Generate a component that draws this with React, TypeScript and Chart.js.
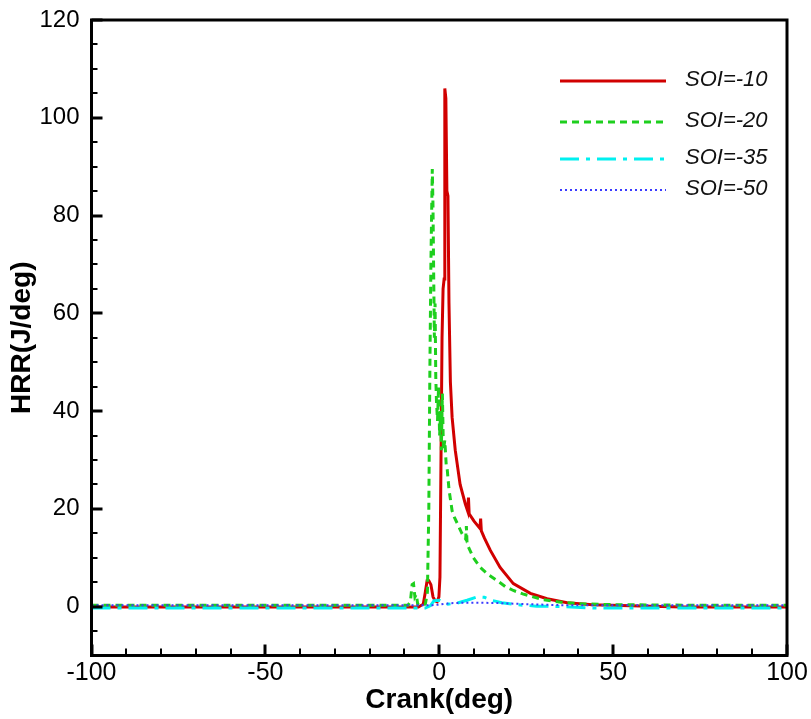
import { useEffect, useRef } from 'react';
import { Chart, registerables } from 'chart.js';

Chart.register(...registerables);

// ---------- data ----------
const seriesLabels = ['SOI=-10', 'SOI=-20', 'SOI=-35', 'SOI=-50'];

const crankSoi10 = [-100, -60, -20, -6, -4.6, -4, -3.5, -3, -2.4, -1.8, -1.2, -0.6, -0.1, 0.2, 0.5, 0.8, 1.1, 1.4, 1.6, 1.9, 2.2, 2.5, 2.8, 3.2, 3.7, 4.6, 6.0, 7.5, 8.2, 8.4, 8.6, 10, 11.7, 11.9, 12.1, 13, 14.7, 17.5, 21.3, 26.2, 31, 36.8, 44, 55, 70, 100];
const hrrSoi10 = [-0.1, -0.1, -0.1, -0.1, 0.5, 3, 5.3, 5.3, 4.5, 2, 1.2, 1.0, 2, 6, 30, 55, 65, 67, 106, 104, 85, 84, 62, 46, 38.7, 32, 25, 21, 19.5, 22.3, 19, 17.5, 16, 18, 15.5, 14, 11.5, 8, 4.7, 2.7, 1.6, 0.8, 0.4, 0.2, -0.1, -0.1];

const crankSoi20 = [-100, -50, -9, -8.3, -7.8, -7.4, -7.0, -6.6, -6.2, -5, -4, -3.4, -3.0, -2.7, -2.4, -2.2, -2.0, -1.8, -1.6, -1.4, -1.2, -1.0, -0.8, -0.5, -0.2, 0.1, 0.4, 0.6, 0.9, 1.2, 1.6, 2.0, 2.3, 2.8, 3.2, 3.7, 4.4, 5.2, 6.5, 7.6, 7.8, 8.0, 9.8, 11.8, 14, 16.7, 19, 21.3, 24, 26, 30, 35, 40, 50, 70, 100];
const hrrSoi20 = [0.3, 0.3, 0.3, 1, 4.5, 4.7, 2, 2.5, 0.5, 0.3, 0.5, 3, 20, 48, 70, 80, 89.5, 82, 68, 55, 62, 47, 42, 38, 45, 35, 40, 32, 43.6, 32, 34, 29, 28, 24, 22, 19.6, 18.2, 17, 15, 13.8, 16.5, 12.8, 10, 8, 6.6, 5.3, 4.1, 3.3, 2.6, 2.2, 1.4, 0.9, 0.6, 0.4, 0.3, 0.3];

const crankSoi35 = [-100, -4, -2.5, -1.5, 0, 1, 2.5, 5, 8, 11, 13, 15, 18, 22, 28, 35, 45, 100];
const hrrSoi35 = [-0.3, -0.3, 0.2, 1.2, 1.3, 1.0, 0.5, 0.7, 1.3, 2, 1.9, 1.3, 0.8, 0.4, 0.1, 0, -0.3, -0.3];

const crankSoi50 = [-100, -2, 0, 3, 8, 12, 18, 25, 35, 100];
const hrrSoi50 = [0.3, 0.3, 0.4, 0.7, 0.8, 0.8, 0.7, 0.5, 0.3, 0.3];

const xTickValues = [-100, -50, 0, 50, 100];
const yTickValues = [0, 20, 40, 60, 80, 100, 120];

const toPoints = (xs: number[], ys: number[]) => xs.map((x, i) => ({ x, y: ys[i] }));

const FONT = '"Liberation Sans", Arial, Helvetica, sans-serif';

const framePlugin = {
  id: 'frameTicks',
  afterDatasetsDraw(chart: any) {
    const { ctx, chartArea, scales } = chart;
    const { left, right, top, bottom } = chartArea;
    const xs = scales.x;
    const ys = scales.y;
    ctx.save();
    ctx.strokeStyle = '#000';
    for (let v = -100; v <= 100; v += 10) {
      const px = Math.round(xs.getPixelForValue(v));
      const major = v % 50 === 0;
      ctx.lineWidth = major ? 3 : 2;
      ctx.beginPath();
      ctx.moveTo(px, bottom);
      ctx.lineTo(px, bottom - (major ? 11 : 7));
      ctx.stroke();
    }
    for (let v = -10; v <= 120; v += 5) {
      const py = Math.round(ys.getPixelForValue(v));
      const major = v % 20 === 0;
      ctx.lineWidth = major ? 3 : 2;
      ctx.beginPath();
      ctx.moveTo(left, py);
      ctx.lineTo(left + (major ? 11 : 6), py);
      ctx.stroke();
    }
    ctx.lineWidth = 3;
    ctx.strokeRect(left, top, right - left, bottom - top);
    ctx.restore();
  },
};

const legendPlugin = {
  id: 'innerLegend',
  afterDraw(chart: any) {
    const { ctx } = chart;
    const rows = [81, 122, 159, 190];
    ctx.save();
    chart.data.datasets.forEach((ds: any, i: number) => {
      const y = rows[i];
      ctx.strokeStyle = ds.borderColor;
      ctx.lineWidth = ds.borderWidth;
      ctx.setLineDash(ds.borderDash || []);
      ctx.beginPath();
      ctx.moveTo(560, y);
      ctx.lineTo(666, y);
      ctx.stroke();
      ctx.setLineDash([]);
      ctx.fillStyle = '#111';
      ctx.font = `italic 22px ${FONT}`;
      ctx.textAlign = 'left';
      ctx.textBaseline = 'middle';
      ctx.fillText(ds.label, 685, y - 1);
    });
    ctx.restore();
  },
};

export default function App() {
  const canvasRef = useRef<HTMLCanvasElement | null>(null);

  useEffect(() => {
    if (!canvasRef.current) return;
    const chart = new Chart(canvasRef.current, {
      type: 'line',
      data: {
        datasets: [
          {
            label: seriesLabels[0],
            data: toPoints(crankSoi10, hrrSoi10),
            borderColor: '#d10000',
            borderWidth: 3,
            pointRadius: 0,
            tension: 0,
            order: 4,
          },
          {
            label: seriesLabels[1],
            data: toPoints(crankSoi20, hrrSoi20),
            borderColor: '#1ecf1e',
            borderWidth: 3,
            borderDash: [7, 5],
            pointRadius: 0,
            tension: 0,
            order: 3,
          },
          {
            label: seriesLabels[2],
            data: toPoints(crankSoi35, hrrSoi35),
            borderColor: '#00f0f0',
            borderWidth: 3,
            borderDash: [19, 7, 4, 7],
            pointRadius: 0,
            tension: 0,
            order: 2,
          },
          {
            label: seriesLabels[3],
            data: toPoints(crankSoi50, hrrSoi50),
            borderColor: '#3a3aff',
            borderWidth: 2,
            borderDash: [2, 3],
            pointRadius: 0,
            tension: 0,
            order: 1,
          },
        ],
      },
      options: {
        responsive: false,
        animation: false,
        devicePixelRatio: 1,
        layout: { padding: { left: 0, right: 24, top: 20, bottom: 0 } },
        plugins: { legend: { display: false }, tooltip: { enabled: false } },
        scales: {
          x: {
            type: 'linear',
            min: -100,
            max: 100,
            afterBuildTicks: (s: any) => {
              s.ticks = xTickValues.map((v) => ({ value: v }));
            },
            afterFit: (s: any) => {
              s.height = 63.5;
              s.paddingLeft = 0;
              s.paddingRight = 0;
            },
            grid: { display: false, drawTicks: false },
            border: { display: false },
            ticks: {
              padding: 3,
              color: '#000',
              font: { family: FONT, size: 25 },
              maxRotation: 0,
              autoSkip: false,
            },
            title: {
              display: true,
              text: 'Crank(deg)',
              color: '#000',
              font: { family: FONT, size: 28, weight: 'bold' },
              padding: { top: 0, bottom: 2 },
            },
          },
          y: {
            type: 'linear',
            min: -10,
            max: 120,
            afterBuildTicks: (s: any) => {
              s.ticks = yTickValues.map((v) => ({ value: v }));
            },
            afterFit: (s: any) => {
              s.width = 91.5;
              s.paddingTop = 0;
              s.paddingBottom = 0;
            },
            grid: { display: false, drawTicks: false },
            border: { display: false },
            ticks: {
              padding: 12,
              color: '#000',
              font: { family: FONT, size: 24 },
              autoSkip: false,
            },
            title: {
              display: true,
              text: 'HRR(J/deg)',
              color: '#000',
              font: { family: FONT, size: 28, weight: 'bold' },
              padding: { top: 5, bottom: 0 },
            },
          },
        },
      },
      plugins: [framePlugin, legendPlugin],
    } as any);
    return () => chart.destroy();
  }, []);

  return (
    <canvas
      ref={canvasRef}
      width={811}
      height={719}
      style={{ position: 'absolute', left: 0, top: 0, width: 811, height: 719, display: 'block' }}
    />
  );
}
